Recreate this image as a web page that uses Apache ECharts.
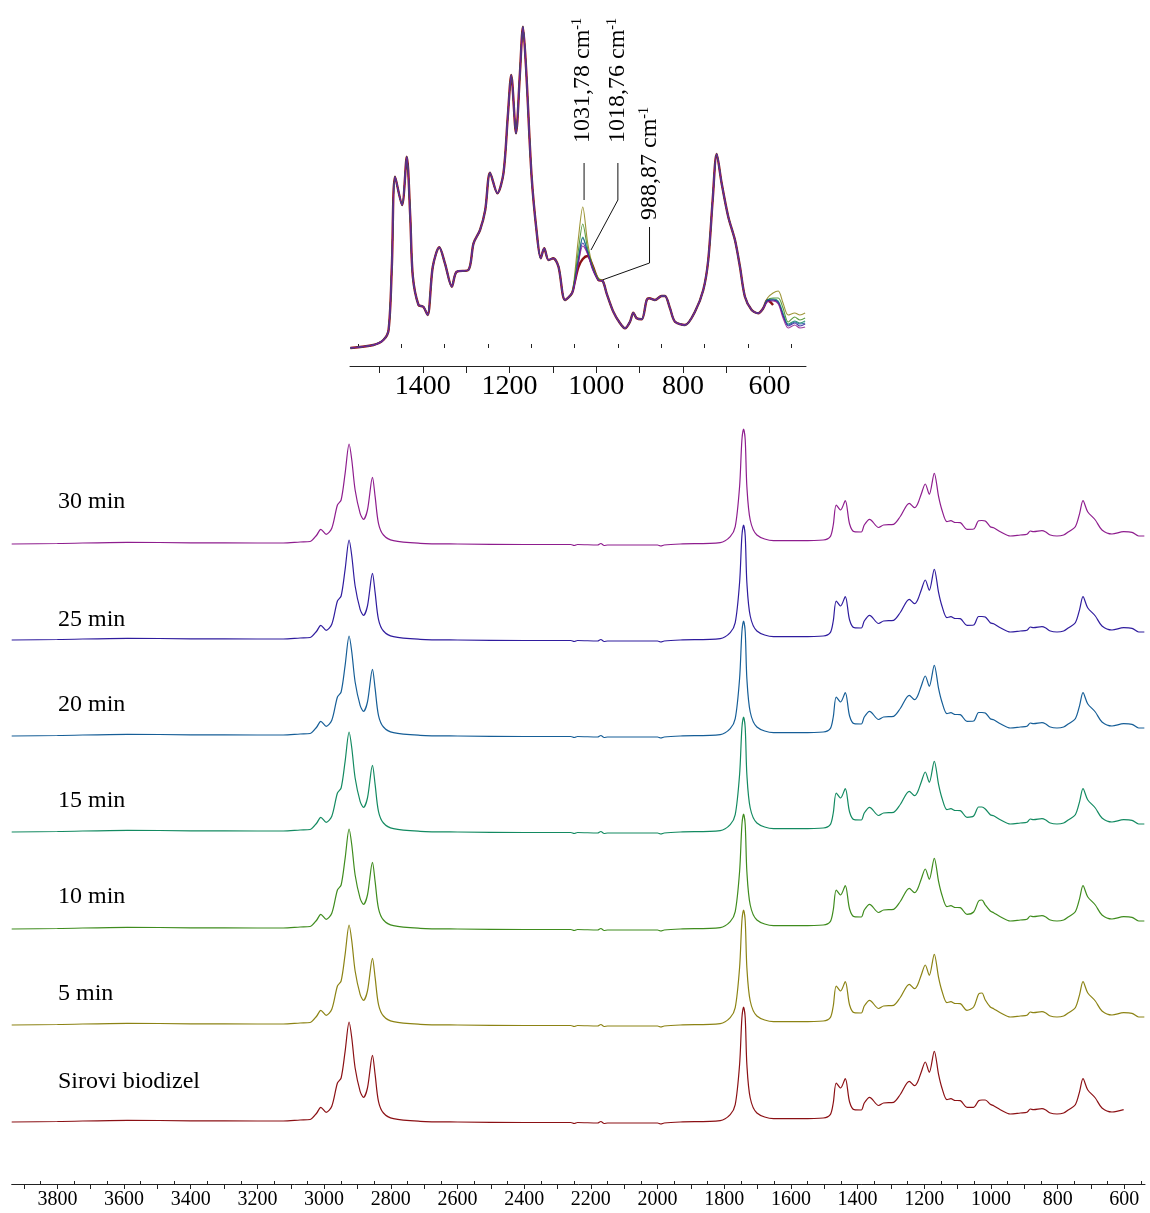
<!DOCTYPE html>
<html><head><meta charset="utf-8">
<script src="https://cdn.jsdelivr.net/npm/echarts@6/dist/echarts.min.js"></script>
<style>html,body{margin:0;padding:0;background:#fff}#c{width:1150px;height:1213px}</style>
</head><body><div id="c"></div>
<script>
// ---------- series meta ----------
const seriesNames = ['Sirovi biodizel','5 min','10 min','15 min','20 min','25 min','30 min'];
const seriesColors = ['#8b1014','#8c8314','#3f8c1e','#138a61','#165e97','#2f1c9e','#8e1d8e'];
const mainOffsets = [0.62, 1.59, 2.55, 3.52, 4.48, 5.44, 6.40];
const mainLastWn = [602, 540, 540, 540, 540, 540, 540];
const labelTops = [1082, 994, 897, 801, 705, 620, 502];

// ---------- main spectrum (shared profile) ----------
const mainWnA = [3937,3800,3590,3400,3200,3123,3072,3042,3022,3010,2994,2977,2960,2949,2937,2925,2917,2907,2892,2882,2870,2855,2847,2837,2822,2792,2712,2600,2400,2260,2250,2240,2180,2170,2160,2150,2000,1990,1980,1932,1812,1782,1767,1754,1747,1742,1737,1732,1722,1702,1652,1572,1503,1482,1473,1464,1451,1437,1424,1410,1389,1380,1364,1337,1322,1292,1272,1245,1229,1220,1209,1197,1185,1170,1157,1147,1132,1120,1110,1092,1072];
const mainShapeA = [0,0.005,0.017,0.012,0.01,0.01,0.02,0.025,0.09,0.147,0.097,0.157,0.39,0.44,0.707,1.0,0.84,0.54,0.307,0.247,0.34,0.667,0.473,0.207,0.09,0.033,0.007,0,-0.005,-0.005,-0.015,-0.005,-0.01,0.005,-0.015,-0.01,-0.01,-0.02,-0.01,0,0.013,0.073,0.173,0.57,1.04,1.15,1.04,0.57,0.24,0.09,0.033,0.033,0.04,0.073,0.19,0.39,0.34,0.433,0.2,0.123,0.12,0.19,0.247,0.165,0.19,0.197,0.275,0.407,0.363,0.40,0.50,0.60,0.497,0.707,0.473,0.34,0.223,0.233,0.217,0.213,0.147];
const mainPeakWn = [1052,1037,1027,1017,1002];
const mainPeak = [
  [0.147,0.213,0.22,0.22,0.177],
  [0.18,0.31,0.32,0.25,0.18],
  [0.17,0.28,0.29,0.24,0.18],
  [0.16,0.25,0.25,0.23,0.173],
  [0.15,0.235,0.235,0.23,0.173],
  [0.15,0.235,0.235,0.23,0.173],
  [0.15,0.233,0.235,0.23,0.173]
];
const mainWnB = [992,972,942,912,892,882,872,847,837,822,802,782,767,747,734,724,710,687,667,637,602,577,557,540];
const mainShapeB = [0.163,0.123,0.08,0.09,0.097,0.13,0.123,0.133,0.123,0.09,0.08,0.09,0.123,0.173,0.307,0.433,0.323,0.24,0.14,0.10,0.123,0.117,0.08,0.08];

// ---------- inset spectrum ----------
const insetWnA = [1567,1514,1491,1479,1471.5,1464,1448,1437,1429,1423,1410,1399,1389,1377,1362,1349,1333,1322,1295,1283,1268,1256,1245,1228,1214,1204,1196,1185,1176,1169,1162,1149,1137,1128,1120,1110,1099,1087,1072,1056];
const insetShapeA = [0,0.03,0.08,0.18,0.813,1.713,1.43,1.913,1.313,0.713,0.43,0.413,0.33,0.813,1.007,0.847,0.613,0.763,0.78,1.047,1.18,1.38,1.753,1.547,1.747,2.313,2.73,2.147,2.747,3.213,2.813,1.713,1.147,0.897,0.997,0.88,0.897,0.813,0.48,0.547];
const insetPeakWn = [1050,1041,1031,1020,1008,995];
const insetPeak = [
  [0.65,0.81,0.89,0.92,0.82,0.68],
  [0.72,1.10,1.41,1.06,0.82,0.70],
  [0.68,0.98,1.24,1.00,0.80,0.69],
  [0.66,0.90,1.11,0.97,0.80,0.68],
  [0.65,0.89,1.10,0.96,0.79,0.68],
  [0.64,0.86,1.05,0.95,0.79,0.68],
  [0.63,0.85,1.02,0.94,0.78,0.68]
];
const insetWnB = [985,976,960.5,945,933.6,922,914.4,906.6,895,883.5,877.5,864.4,849,841.3,829.8,818.3,795.2,772.2,753,741.5,731.3,722.1,710.6,695.4,679.9,668.4,656.9,641.4,626.2,614.7];
const insetShapeB = [0.67,0.547,0.363,0.247,0.197,0.263,0.353,0.297,0.287,0.48,0.497,0.48,0.52,0.52,0.397,0.263,0.23,0.363,0.58,0.88,1.48,1.94,1.647,1.313,1.08,0.813,0.513,0.38,0.347,0.397];
const insetTailWn = [605,592,580,569,557,542,530,518];
const insetTail = [
  [0.48,0.43],
  [0.50,0.55,0.57,0.45,0.33,0.35,0.33,0.35],
  [0.48,0.50,0.50,0.40,0.26,0.31,0.28,0.30],
  [0.48,0.49,0.47,0.35,0.24,0.27,0.25,0.27],
  [0.48,0.48,0.46,0.33,0.23,0.26,0.24,0.25],
  [0.47,0.48,0.45,0.32,0.22,0.25,0.22,0.24],
  [0.46,0.47,0.44,0.30,0.20,0.23,0.20,0.21]
];

// ---------- axis ticks ----------
const mainLabels = [3800,3600,3400,3200,3000,2800,2600,2400,2200,2000,1800,1600,1400,1200,1000,800,600];
const mainMajorTicks = [3900,3800,3700,3600,3500,3400,3300,3200,3100,3000,2900,2800,2700,2600,2500,2400,2300,2200,2100,2000,1900,1800,1700,1600,1500,1400,1300,1200,1100,1000,900,800,700,600];
const mainMinorTicks = [3850,3750,3650,3550,3450,3350,3250,3150,3050,2950,2850,2750,2650,2550,2450,2350,2250,2150,2050,1950,1850,1750,1650,1550,1450,1350,1250,1150,1050,950,850,750,650,550];
const insetLabels = [1400,1200,1000,800,600];
const insetMajorTicks = [1500,1400,1300,1200,1100,1000,900,800,700,600];
const insetMinorTicks = [1550,1450,1350,1250,1150,1050,950,850,750,650,550];

// ---------- annotations (inset data coords) ----------
const annTexts = ['1031,78 cm','1018,76 cm','988,87 cm'];
const annTextPos = [[1030.4,2.05],[950,2.05],[876,1.28]];
const annLines = [
  [[1028,1.85],[1028,1.48]],
  [[950,1.85],[950,1.48],[1012,0.98]],
  [[877,1.21],[877,0.85],[986,0.68]]
];

const FONT = "'Liberation Serif','Times New Roman',serif";

function mainData(i){
  const p=[];
  mainWnA.forEach((w,k)=>p.push([w, mainShapeA[k]+mainOffsets[i]]));
  mainPeakWn.forEach((w,k)=>p.push([w, mainPeak[i][k]+mainOffsets[i]]));
  mainWnB.forEach((w,k)=>{ if(w>=mainLastWn[i]) p.push([w, mainShapeB[k]+mainOffsets[i]]); });
  return p;
}
function insetData(i){
  const p=[];
  insetWnA.forEach((w,k)=>p.push([w, insetShapeA[k]]));
  insetPeakWn.forEach((w,k)=>p.push([w, insetPeak[i][k]]));
  insetWnB.forEach((w,k)=>p.push([w, insetShapeB[k]]));
  insetTail[i].forEach((v,k)=>p.push([insetTailWn[k], v]));
  return p;
}

const chart = echarts.init(document.getElementById('c'), null, {renderer:'canvas'});
const series = [];
seriesNames.forEach((n,i)=>{
  series.push({name:n, type:'line', xAxisIndex:0, yAxisIndex:0, data:mainData(i),
    showSymbol:false, smooth:0.3, lineStyle:{color:seriesColors[i], width:1.2}, silent:true, z:2});
});
const insetOrder = [0,1,2,3,4,5,6];
insetOrder.forEach(i=>{
  series.push({name:seriesNames[i]+' (inset)', type:'line', xAxisIndex:1, yAxisIndex:1, data:insetData(i),
    showSymbol:false, smooth:0.3, lineStyle:{color:seriesColors[i], width: i===0?2.4:1.1, opacity: i===0?1:0.85}, silent:true, z: 3});
});

const axisLineStyle = {color:'#222', width:1};
const plain = v => String(v);
chart.setOption({
  animation:false,
  backgroundColor:'#fff',
  grid:[
    {left:11.7, right:5, top:420, bottom:29},
    {left:350, right:344, top:20, bottom:847}
  ],
  xAxis:[
    {type:'value', gridIndex:0, min:538, max:3937, inverse:true,
      axisLine:{show:true, lineStyle:axisLineStyle, onZero:false},
      axisTick:{show:true, length:5, lineStyle:axisLineStyle, customValues:mainMajorTicks},
      axisLabel:{show:true, customValues:mainLabels, formatter:plain, fontFamily:FONT, fontSize:20, color:'#000', margin:6},
      splitLine:{show:false}},
    {type:'value', gridIndex:1, min:516, max:1568, inverse:true,
      axisLine:{show:true, lineStyle:axisLineStyle, onZero:false},
      axisTick:{show:true, length:7, lineStyle:axisLineStyle, customValues:insetMajorTicks},
      axisLabel:{show:true, customValues:insetLabels, formatter:plain, fontFamily:FONT, fontSize:28, color:'#000', margin:7},
      splitLine:{show:false}},
    {type:'value', gridIndex:0, min:538, max:3937, inverse:true,
      axisLine:{show:false}, axisLabel:{show:false}, splitLine:{show:false},
      axisTick:{show:true, length:3, lineStyle:axisLineStyle, customValues:mainMinorTicks}},
    {type:'value', gridIndex:1, min:516, max:1568, inverse:true,
      axisLine:{show:false}, axisLabel:{show:false}, splitLine:{show:false},
      axisTick:{show:true, length:4, lineStyle:axisLineStyle, customValues:insetMinorTicks}}
  ],
  yAxis:[
    {type:'value', gridIndex:0, min:0, max:7.64, show:false},
    {type:'value', gridIndex:1, min:-0.18, max:3.28, show:false}
  ],
  series:series
});

// ---------- graphic texts and leader lines ----------
const graphics = [];
seriesNames.forEach((n,i)=>{
  graphics.push({type:'text', x:58, y:labelTops[i], silent:true,
    style:{text:n, font:'24px '+FONT, fill:'#000', align:'left', verticalAlign:'middle', textAlign:'left', textVerticalAlign:'middle'}});
});
annTexts.forEach((t,i)=>{
  const p = chart.convertToPixel({gridIndex:1}, annTextPos[i]);
  graphics.push({type:'text', x:p[0], y:p[1], rotation:Math.PI/2, silent:true,
    style:{text:'{n|'+t+'}{s|-1}', align:'left', verticalAlign:'middle', textAlign:'left', textVerticalAlign:'middle', fill:'#000',
      rich:{n:{fontFamily:FONT, fontSize:24, lineHeight:26, fill:'#000'}, s:{fontFamily:FONT, fontSize:14, lineHeight:14, verticalAlign:'top', fill:'#000'}}}});
  const pts = annLines[i].map(q=>chart.convertToPixel({gridIndex:1}, q));
  graphics.push({type:'polyline', silent:true, shape:{points:pts}, style:{stroke:'#111', lineWidth:1, fill:null}});
});
chart.setOption({graphic:graphics});
</script></body></html>
